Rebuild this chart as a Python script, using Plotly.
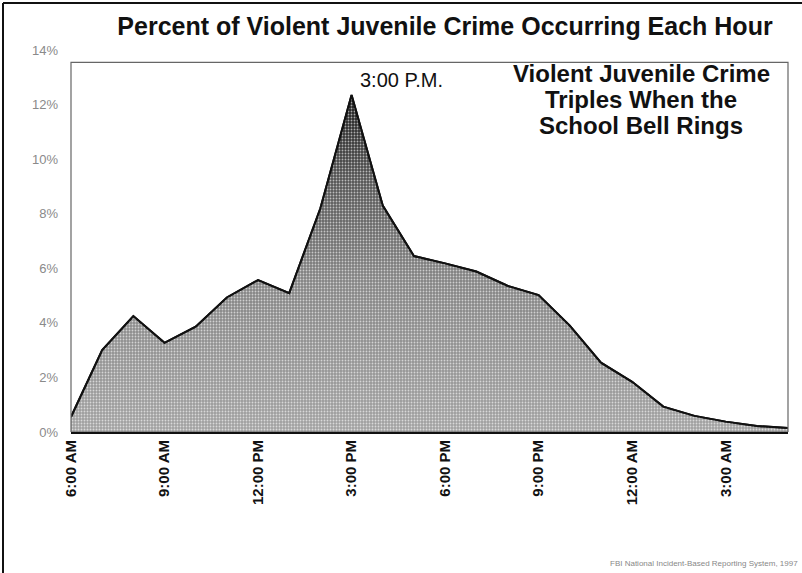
import plotly.graph_objects as go

# Hour of day (6 AM through 5 AM) and share of violent juvenile crime
hours = ["6:00 AM", "7:00 AM", "8:00 AM", "9:00 AM", "10:00 AM", "11:00 AM",
         "12:00 PM", "1:00 PM", "2:00 PM", "3:00 PM", "4:00 PM", "5:00 PM",
         "6:00 PM", "7:00 PM", "8:00 PM", "9:00 PM", "10:00 PM", "11:00 PM",
         "12:00 AM", "1:00 AM", "2:00 AM", "3:00 AM", "4:00 AM", "5:00 AM"]
pct = [0.55, 3.0, 4.25, 3.27, 3.86, 4.93,
       5.57, 5.09, 8.2, 12.35, 8.3, 6.45,
       6.18, 5.88, 5.36, 5.02, 3.9, 2.54,
       1.84, 0.93, 0.59, 0.38, 0.22, 0.15]

tick_hours = ["6:00 AM", "9:00 AM", "12:00 PM", "3:00 PM",
              "6:00 PM", "9:00 PM", "12:00 AM", "3:00 AM"]
y_ticks = [0, 2, 4, 6, 8, 10, 12, 14]
y_labels = ["0%", "2%", "4%", "6%", "8%", "10%", "12%", "14%"]

headline = ["Violent Juvenile Crime", "Triples When the", "School Bell Rings"]

x_pos = list(range(len(hours)))
tick_pos = [hours.index(h) for h in tick_hours]
peak_i = pct.index(max(pct))

FONT = "Liberation Sans, Arial, sans-serif"

# Plot area in pixels (used to place paper-referenced items)
L, R, T, B = 71, 788, 50, 432


def px_x(p):
    return (p - L) / (R - L)


def px_y(p):
    return (B - p) / (B - T)


fig = go.Figure()
# Shaded area, dark near the peak and lighter toward the baseline
fig.add_trace(go.Scatter(
    x=x_pos, y=pct, mode="lines",
    line=dict(color="#111111", width=2),
    fill="tozeroy",
    fillgradient=dict(
        type="vertical", start=0, stop=max(pct),
        colorscale=[[0, "#a2a2a2"], [0.45, "#838383"],
                    [0.75, "#535353"], [1, "#1a1a1a"]],
    ),
    hoverinfo="skip", showlegend=False,
))
# Speckled texture over the shaded area
fig.add_trace(go.Scatter(
    x=x_pos, y=pct, mode="lines",
    line=dict(width=0, color="rgba(0,0,0,0)"),
    fill="tozeroy", fillcolor="rgba(0,0,0,0)",
    fillpattern=dict(shape=".", fgcolor="rgba(255,255,255,0.6)",
                     bgcolor="rgba(0,0,0,0)", size=3, solidity=0.3,
                     fillmode="replace"),
    hoverinfo="skip", showlegend=False,
))
# Outline on top
fig.add_trace(go.Scatter(
    x=x_pos, y=pct, mode="lines",
    line=dict(color="#111111", width=2),
    hoverinfo="skip", showlegend=False,
))

fig.update_layout(
    width=802, height=573,
    margin=dict(l=L, r=802 - R, t=T, b=573 - B),
    paper_bgcolor="white", plot_bgcolor="white",
    font=dict(family=FONT, color="#111111"),
    title=dict(
        text="<b>Percent of Violent Juvenile Crime Occurring Each Hour</b>",
        x=445 / 802, xanchor="center", xref="container",
        y=1 - 26 / 573, yanchor="middle", yref="container",
        font=dict(size=25, family=FONT, color="#111111"),
    ),
    xaxis=dict(
        range=[0, len(hours) - 1],
        tickmode="array", tickvals=tick_pos, ticktext=tick_hours,
        tickangle=-90, tickfont=dict(size=15, family=FONT, color="#111111",
                                     weight="bold"),
        showgrid=False, zeroline=False,
        showline=True, linecolor="#111111", linewidth=2,
        ticks="", ticklen=0,
    ),
    yaxis=dict(
        range=[0, 14],
        tickmode="array", tickvals=y_ticks, ticktext=y_labels,
        tickfont=dict(size=13, family=FONT, color="#8a8a8a"),
        showgrid=False, zeroline=False, showline=False,
        ticks="", ticklabelstandoff=12,
    ),
)

# Plot frame (left, top and right edges)
fig.add_shape(type="rect", xref="paper", yref="y",
              x0=0, x1=1, y0=0, y1=13.55,
              line=dict(color="#666666", width=1.2), layer="above")

# Outer border lines of the figure
fig.add_shape(type="line", xref="paper", yref="paper",
              x0=px_x(3), x1=px_x(3), y0=px_y(3), y1=px_y(576),
              line=dict(color="#111111", width=2))
fig.add_shape(type="line", xref="paper", yref="paper",
              x0=px_x(3), x1=px_x(805), y0=px_y(3), y1=px_y(3),
              line=dict(color="#111111", width=2))

# Peak label
fig.add_annotation(x=peak_i + 1.6, y=px_y(80) * 14, xref="x", yref="y",
                   text="3:00 P.M.", showarrow=False,
                   font=dict(size=20, family=FONT, color="#111111"),
                   xanchor="center", yanchor="middle")

for k, line in enumerate(headline):
    fig.add_annotation(x=px_x(641), y=px_y(73 + 26 * k),
                       xref="paper", yref="paper",
                       text="<b>" + line + "</b>", showarrow=False,
                       font=dict(size=24, family=FONT, color="#111111"),
                       xanchor="center", yanchor="middle")

fig.add_annotation(x=px_x(608), y=px_y(563),
                   xref="paper", yref="paper",
                   text="FBI National Incident-Based Reporting System, 1997",
                   showarrow=False, xanchor="left", yanchor="middle",
                   font=dict(size=8, family=FONT, color="#888888"))

fig.write_html("out.html")
